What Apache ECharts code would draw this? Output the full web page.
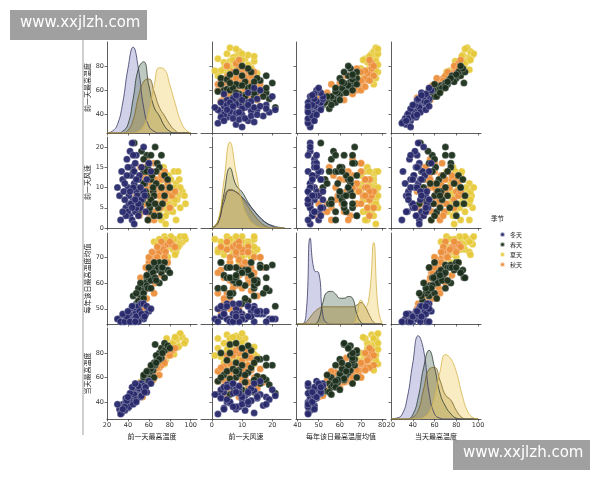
<!DOCTYPE html>
<html><head><meta charset="utf-8">
<script src="https://cdn.jsdelivr.net/npm/echarts@6/dist/echarts.min.js"></script>
<style>html,body{margin:0;padding:0;background:#fff}#c{width:600px;height:480px}</style>
</head><body><div id="c"></div>
<script>
// variables: [前一天最高温度, 前一天风速, 每年该日最高温度均值, 当天最高温度]
const varNames = ['前一天最高温度','前一天风速','每年该日最高温度均值','当天最高温度'];
const seasons = ['冬天','春天','夏天','秋天'];
const winter = [[32,8,46,34],[35,12,47,38],[38,5,46,40],[40,10,48,42],[42,3,47,44],[44,15,49,43],[45,7,48,47],[46,11,46,45],[47,4,50,48],[48,9,49,50],[43,13,47,41],[41,6,46,39],[39,17,48,37],[36,9,45,36],[44,2,50,46],[46,14,51,49],[49,8,50,52],[50,12,51,47],[52,5,52,54],[48,18,49,44],[45,10,47,43],[43,6,45,40],[40,4,47,35],[37,11,46,33],[50,3,51,50],[53,7,52,55],[47,16,48,46],[42,19,46,42],[55,9,52,53],[34,14,45,31],[30,10,46,38],[44,21,46,45],[51,13,49,51],[46,1,46,46],[38,3,47,43],[58,12,51,48],[41,8,48,36],[48,5,46,42],
  [55,20,46,50],[60,16,49,57],[33,2,45,30],[37,7,45,36],[52,10,46,44],[57,4,48,52],[62,14,50,55],[39,13,47,41],[45,18,45,38],[50,6,45,53],[35,4,48,34],[42,9,45,47],[48,12,47,40],[53,15,48,45],[44,5,51,52],[40,15,49,44],[47,7,45,55],[56,8,47,48]];
const spring = [[48,10,52,50],[52,6,55,55],[55,14,58,57],[57,8,60,60],[58,18,62,58],[60,4,63,62],[62,12,64,64],[64,9,65,66],[66,20,67,70],[54,7,56,52],[56,11,59,56],[59,15,61,61],[61,5,62,65],[63,13,63,68],[65,8,66,72],[68,16,67,75],[70,3,68,80],[72,10,64,84],[53,19,57,54],[57,9,60,63],[50,12,53,49],[46,21,51,47],[60,6,62,59],[67,11,65,78],[58,14,59,58],[62,7,61,67],[75,13,68,82],[55,17,56,60],[69,5,66,74],[64,10,64,70],[66,6,62,87],[59,2,58,57],[72,18,66,76],
  [45,14,55,48],[50,4,58,52],[60,16,66,55],[75,8,62,88],[78,12,65,86],[70,15,60,75],[52,9,60,50],[65,3,68,60],[73,6,66,80],[62,18,58,70],[55,11,54,62],[80,10,64,84],[48,6,56,46],[67,14,61,72],[58,8,63,65]];
const summer = [[65,6,68,68],[68,9,70,72],[70,11,71,75],[72,7,72,76],[74,5,73,78],[75,12,74,80],[76,8,74,74],[77,10,75,82],[78,4,75,79],[79,13,76,84],[80,7,76,86],[82,9,77,88],[84,6,77,90],[86,11,76,92],[88,8,77,94],[90,5,75,95],[73,14,72,73],[71,10,70,70],[76,3,74,77],[81,12,76,81],[83,8,77,85],[85,10,76,89],[79,6,75,83],[67,9,69,66],[74,15,73,77],[87,7,77,91],[92,9,76,93],[78,11,74,80],[70,4,71,72],[80,8,75,87],[95,6,77,90],[89,12,75,86],[72,2,73,84],[84,14,77,79],[77,6,76,92],[69,8,72,78],
  [62,10,70,60],[65,3,76,66],[75,14,78,71],[83,4,73,88],[90,10,78,96],[86,2,72,92],[68,12,75,70],[78,13,70,80],[94,8,78,88],[72,9,68,75],[81,5,78,83],[88,14,74,85],[76,1,77,78],[85,7,71,93],[70,6,77,74]];
const autumn = [[48,8,50,48],[50,12,53,52],[53,5,56,54],[55,10,58,56],[57,7,60,58],[58,14,62,60],[60,9,63,62],[61,3,65,63],[62,11,66,60],[64,6,68,65],[65,16,70,67],[67,8,71,70],[69,10,72,72],[71,5,73,74],[73,12,74,76],[75,7,74,78],[78,9,75,80],[56,13,57,55],[59,6,61,59],[63,10,67,64],[52,15,55,50],[54,4,52,53],[66,9,69,62],[70,12,72,68],[60,2,64,57],[58,8,59,61],[62,13,66,66],[68,6,70,71],[74,10,73,74],[82,8,75,82],[51,3,49,49],[64,14,64,58],[56,6,54,62],[72,9,76,70],[60,11,68,66],[66,4,62,69],[54,9,50,44],[76,12,72,80],[62,7,58,64],[58,17,66,56],
  [45,10,48,47],[50,5,52,45],[55,15,60,52],[65,2,56,65],[70,8,66,62],[75,14,70,72],[80,5,76,78],[85,9,74,84],[52,12,62,56],[60,16,70,60],[68,3,74,68],[72,13,63,76],[58,4,54,58],[63,8,72,66],[78,11,68,82],[47,6,50,50],[57,10,66,60],[66,12,60,70]];
// KDE curves
const kdeX0 = [20,25,30,35,40,45,50,55,60,65,70,75,80,85,90,95,100];
const kde0 = {
  '冬天':[0,0.02,0.1,0.35,0.75,1.0,0.75,0.3,0.08,0.02,0,0,0,0,0,0,0],
  '春天':[0,0,0,0.02,0.1,0.4,0.75,0.83,0.55,0.3,0.2,0.08,0.02,0,0,0,0],
  '秋天':[0,0,0,0,0.03,0.15,0.42,0.6,0.63,0.48,0.3,0.2,0.1,0.03,0,0,0],
  '夏天':[0,0,0,0,0,0,0.02,0.08,0.25,0.55,0.76,0.74,0.56,0.35,0.15,0.04,0]
};
const kdeX1 = [0,2,4,6,8,10,12,14,16,18,20,22,24];
const kde1 = {
  '冬天':[0,0.06,0.3,0.44,0.42,0.36,0.28,0.2,0.12,0.06,0.03,0.01,0],
  '春天':[0,0.06,0.4,0.7,0.5,0.42,0.3,0.2,0.12,0.06,0.02,0,0],
  '秋天':[0,0.08,0.35,0.45,0.42,0.35,0.25,0.15,0.07,0.02,0,0,0],
  '夏天':[0,0.08,0.55,1.0,0.65,0.3,0.12,0.04,0.01,0,0,0,0]
};
const kdeX2 = [40,42,44,46,48,50,52,54,56,58,60,62,64,66,68,70,72,74,76,78,80];
const kde2 = {
  '冬天':[0,0,0.1,1.0,0.62,0.6,0.1,0.01,0,0,0,0,0,0,0,0,0,0,0,0,0],
  '春天':[0,0,0,0,0,0.05,0.25,0.37,0.38,0.35,0.3,0.3,0.32,0.3,0.12,0.02,0,0,0,0,0],
  '秋天':[0,0,0.02,0.08,0.14,0.18,0.2,0.2,0.2,0.2,0.2,0.2,0.2,0.2,0.22,0.25,0.2,0.1,0.02,0,0],
  '夏天':[0,0,0,0,0,0,0,0,0,0,0,0,0,0,0.1,0.28,0.2,0.35,0.95,0.2,0]
};
const kdeX3 = [20,25,30,35,40,45,50,55,60,65,70,75,80,85,90,95,100];
const kde3 = {
  '冬天':[0,0.01,0.05,0.25,0.65,0.97,0.8,0.3,0.06,0.01,0,0,0,0,0,0,0],
  '春天':[0,0,0,0,0.05,0.25,0.6,0.8,0.6,0.3,0.15,0.06,0.01,0,0,0,0],
  '秋天':[0,0,0,0,0.02,0.1,0.35,0.58,0.6,0.45,0.28,0.22,0.1,0.02,0,0,0],
  '夏天':[0,0,0,0,0,0,0.02,0.08,0.25,0.55,0.75,0.7,0.55,0.3,0.1,0.02,0]
};
const xTicks = [[20,40,60,80,100],[0,10,20],[40,50,60,70,80],[20,40,60,80,100]];
const yTicks = [[40,60,80],[0,5,10,15,20],[50,60,70],[40,60,80]];

const xRange = [[20,106],[-3.6,26.2],[39.3,81.8],[20,102.7]];
const yRange = [[25,99.7],[0,22.5],[44.1,79.4],[26,100.5]];
const lefts = [107,201,296,391], tops = [42,137,233,328], W = 90, H = 91;
const sData = {'冬天':winter,'春天':spring,'夏天':summer,'秋天':autumn};
const ptColor = {'冬天':'#28296b','春天':'#1b2f1c','夏天':'#e6c93a','秋天':'#ec8f3c'};
const kdeFill = {'冬天':'#9a9bd0','春天':'#6f8777','夏天':'#f2d577','秋天':'#a38b3a'};
const kdeLine = {'冬天':'#3a3a66','春天':'#2c3a30','夏天':'#d4b24a','秋天':'#7a6528'};
const kdes = [[kdeX0,kde0],[kdeX1,kde1],[kdeX2,kde2],[kdeX3,kde3]];
const drawOrder = ['夏天','秋天','春天','冬天'];
const kdeOrder = ['冬天','春天','秋天','夏天'];

const grid=[], xAxis=[], yAxis=[], series=[];
const font = 'DejaVu Sans';
const axStyle = {lineStyle:{color:'#333',width:0.8}};
for (let r=0;r<4;r++) for (let c=0;c<4;c++){
  const gi = grid.length;
  grid.push({left:lefts[c],top:tops[r],width:W,height:H});
  xAxis.push({gridIndex:gi,type:'value',min:xRange[c][0],max:xRange[c][1],
    axisLine:{show:true,...axStyle},splitLine:{show:false},
    axisTick:{show:true,length:2.5,lineStyle:{color:'#333',width:0.7},customValues:xTicks[c]},
    axisLabel:{show:r===3,fontSize:6.5,color:'#333',margin:3,fontFamily:font,customValues:xTicks[c]},
    name:r===3?varNames[c]:'',nameLocation:'middle',nameGap:14,nameTextStyle:{fontSize:7,color:'#222',fontFamily:'Noto Sans CJK SC'}});
  const yi = yAxis.length;
  yAxis.push({gridIndex:gi,type:'value',min:yRange[r][0],max:yRange[r][1],
    axisLine:{show:true,...axStyle},splitLine:{show:false},
    axisTick:{show:true,length:2.5,lineStyle:{color:'#333',width:0.7},customValues:yTicks[r]},
    axisLabel:{show:c===0,fontSize:6.5,color:'#333',margin:3,fontFamily:font,customValues:yTicks[r]},
    name:c===0?varNames[r]:'',nameLocation:'middle',nameGap:16,nameRotate:90,nameTextStyle:{fontSize:7,color:'#222',fontFamily:'Noto Sans CJK SC'}});
  if (r===c){
    const di = yAxis.length;
    yAxis.push({gridIndex:gi,type:'value',min:0,max:1.06,show:false});
    const [xs,kd]=kdes[c];
    kdeOrder.forEach(s=>{
      series.push({type:'line',xAxisIndex:gi,yAxisIndex:di,smooth:0.5,symbol:'none',silent:true,
        data:xs.map((x,i)=>[x,kd[s][i]]),
        lineStyle:{color:kdeLine[s],width:0.8},areaStyle:{color:kdeFill[s],opacity:0.45},z:2});
    });
  } else {
    drawOrder.forEach(s=>{
      series.push({type:'scatter',name:s,xAxisIndex:gi,yAxisIndex:yi,symbolSize:7,
        data:sData[s].map(p=>[p[c],p[r]]),
        itemStyle:{color:ptColor[s],borderColor:'rgba(255,255,255,0.7)',borderWidth:0.4,opacity:0.95}});
    });
  }
}
const chart = echarts.init(document.getElementById('c'),null,{renderer:'canvas'});
chart.setOption({
  animation:false,
  grid, xAxis, yAxis, series,
  legend:{data:seasons.map(s=>({name:s,icon:'circle'})),orient:'vertical',left:494,top:226,
    itemWidth:5,itemHeight:5,itemGap:3,textStyle:{fontSize:6,color:'#222',fontFamily:'Noto Sans CJK SC'},selectedMode:false},
  graphic:[
    {type:'text',left:491,top:215,style:{text:'季节',fontSize:6.5,fill:'#222',fontFamily:'Noto Sans CJK SC'}},
    {type:'line',shape:{x1:83,y1:40,x2:83,y2:435},style:{stroke:'#888',lineWidth:0.8}},
    {type:'rect',shape:{x:10,y:10,width:137,height:30},style:{fill:'#a0a0a0'}},
    {type:'text',left:20,top:16,style:{text:'www.xxjlzh.com',fontSize:15,fill:'#fff',fontFamily:'DejaVu Sans'}},
    {type:'rect',shape:{x:453,y:440,width:137,height:30},style:{fill:'#a0a0a0'}},
    {type:'text',left:463,top:446,style:{text:'www.xxjlzh.com',fontSize:15,fill:'#fff',fontFamily:'DejaVu Sans'}}
  ]
});
</script></body></html>
